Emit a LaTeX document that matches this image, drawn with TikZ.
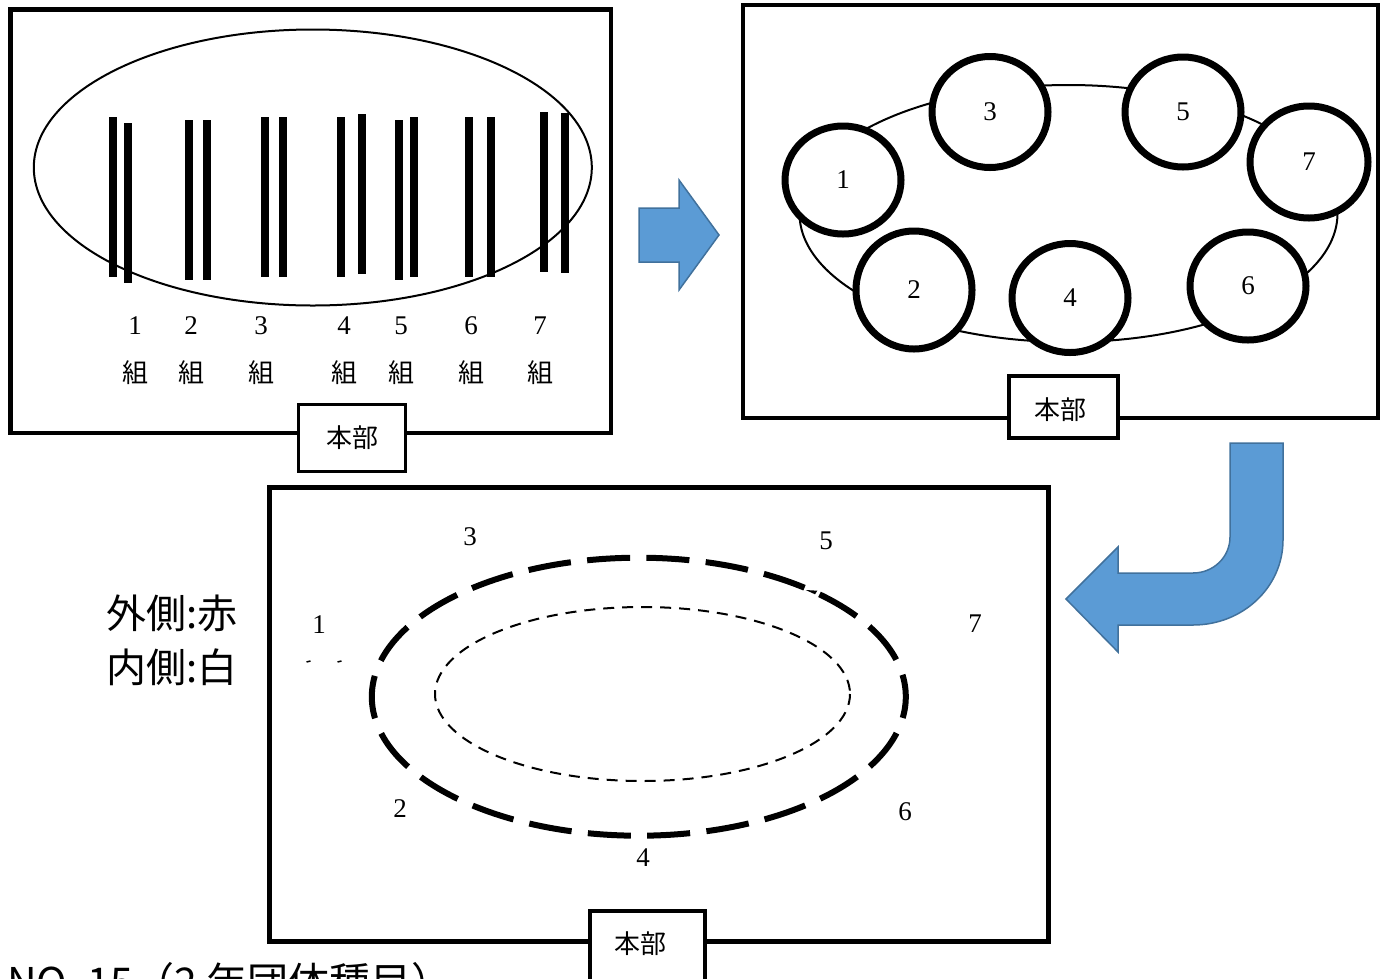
\documentclass[tikz,border=0pt]{standalone}
\usepackage{fontspec}
\setmainfont{Liberation Serif}
\newfontfamily\jpfont{Noto Sans CJK JP}
\usetikzlibrary{shapes.geometric}
\definecolor{arrowfill}{HTML}{5B9BD5}
\definecolor{arrowline}{HTML}{41719C}
\begin{document}
\begin{tikzpicture}[x=1pt,y=-1pt,
  frame/.style={draw=black,line width=4.5pt},
  hq/.style={draw=black,line width=3.5pt,fill=white,inner sep=0pt,font=\jpfont\fontsize{26}{30}\selectfont},
  bar/.style={fill=black},
  num/.style={font=\fontsize{27}{30}\selectfont,inner sep=0pt},
  kumi/.style={font=\jpfont\fontsize{26}{30}\selectfont,inner sep=0pt},
  team/.style={ellipse,draw=black,line width=7pt,fill=white,inner sep=0pt,font=\fontsize{27}{30}\selectfont},
  bigarrow/.style={fill=arrowfill,draw=arrowline,line width=1.5pt,line join=miter},
  legend/.style={font=\jpfont\fontsize{40}{44}\selectfont,inner sep=0pt,anchor=west},
  track/.style={draw=black,line width=2pt}
]
\useasboundingbox (0,0) rectangle (1386,978);
\clip (0,0) rectangle (1386,978);

% ---------- top-left panel ----------
\draw[frame] (10.5,9.5) rectangle (611,433);
\draw[track] (312.8,167.5) ellipse [x radius=279, y radius=138];
\foreach \xl/\yt/\yb in {109/117/277,124/123/283,185/120/280,203/120/280,261/117/277,279/117/277,
  337/117/277,358/114/274,395/120/280,410/117/277,465/117/277,487/117/277,540/112/272,561/113/273}{
  \fill[bar] (\xl,\yt) rectangle ++(8,\yb-\yt);
}
\foreach \i/\xc in {1/135,2/191,3/261,4/344,5/401,6/471,7/540}{
  \node[num] (tl\i) at (\xc,326) {\i};
  \node[kumi] (tk\i) at (\xc,373) {組};
}
\node[hq,minimum width=107pt,minimum height=67pt] (hq1) at (352,438) {本部};

% ---------- right arrow ----------
\draw[bigarrow] (639,208) -- (679,208) -- (679,180) -- (719,235) -- (679,290) -- (679,262) -- (639,262) -- cycle;

% ---------- top-right panel ----------
\draw[frame] (743,5) rectangle (1378,418);
\draw[track] (1068.5,213.5) ellipse [x radius=269, y radius=128.5];
\node[team,minimum width=116pt,minimum height=108pt] (c1) at (843,180) {1};
\node[team,minimum width=116pt,minimum height=111pt] (c3) at (990,112) {3};
\node[team,minimum width=116pt,minimum height=110pt] (c5) at (1183,112) {5};
\node[team,minimum width=118pt,minimum height=112pt] (c7) at (1309,162) {7};
\node[team,minimum width=116pt,minimum height=118pt] (c2) at (914,290) {2};
\node[team,minimum width=116pt,minimum height=109pt] (c4) at (1070,298) {4};
\node[team,minimum width=116pt,minimum height=108pt] (c6) at (1248,286) {6};
\node[hq,minimum width=109pt,minimum height=62pt] (hq2) at (1063.5,407) {};
\node[kumi] (hq2t) at (1060,410) {本部};

% ---------- U-turn arrow ----------
\draw[bigarrow] (1230,443) -- (1283,443) -- (1283,540)
  .. controls (1283,587) and (1243,625) .. (1193,625)
  -- (1118,625) -- (1118,652) -- (1066,599) -- (1118,547) -- (1118,573) -- (1193,573)
  .. controls (1213.5,573) and (1230,557) .. (1230,537) -- cycle;

% ---------- bottom panel ----------
\draw[frame,line width=5pt] (269,487) rectangle (1048,941);
\draw[draw=black,line width=6pt,dash pattern=on 43pt off 16.4pt,dash phase=21.5pt]
  (638.8,696.7) ellipse [x radius=267, y radius=139];
\draw[draw=black,line width=2pt,dash pattern=on 11pt off 8pt]
  (642.5,694) ellipse [x radius=207.5, y radius=87];
\fill[black] (805.7,590) -- (817.3,590.7) -- (815,594.3) -- cycle;
\draw[line width=1.5pt] (306.5,662) -- (310.5,661);
\draw[line width=1.5pt] (337.5,662) -- (341.5,661);
\node[num] (b1) at (319,625) {1};
\node[num] (b2) at (400,809) {2};
\node[num] (b3) at (470,537) {3};
\node[num] (b4) at (643,858) {4};
\node[num] (b5) at (826,541) {5};
\node[num] (b6) at (905,812) {6};
\node[num] (b7) at (975,624) {7};
\node[hq,minimum width=115pt,minimum height=90pt,anchor=north] (hq3) at (647.5,909) {};
\node[kumi] (hq3t) at (640,944) {本部};

% ---------- legend and title ----------
\node[legend] (outer) at (106,613) {外側:赤};
\node[legend] (inner) at (106,667) {内側:白};
\node[font=\jpfont\fontsize{41}{45}\selectfont,inner sep=0pt,anchor=base west] (title) at (7,997) {NO. 15（2 年団体種目）};
\end{tikzpicture}
\end{document}
